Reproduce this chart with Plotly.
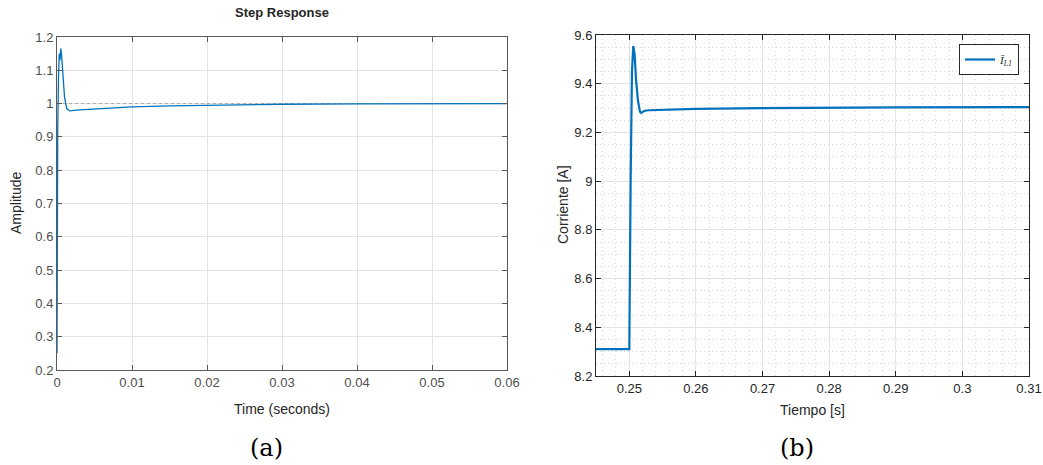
import plotly.graph_objects as go

# ---- Data: (a) step response ----
t_a = [0, 0.00002, 0.0001, 0.0002, 0.0003, 0.0004, 0.0005, 0.0006, 0.0008, 0.001,
       0.0013, 0.0017, 0.003, 0.006, 0.01, 0.015, 0.02, 0.025, 0.03, 0.04, 0.05, 0.06]
y_a = [0.25, 0.67, 0.93, 1.08, 1.15, 1.13, 1.165, 1.15, 1.08, 1.02,
       0.985, 0.978, 0.981, 0.985, 0.99, 0.993, 0.995, 0.997, 0.998, 0.999, 1.0, 1.0]
ref_t = [0, 0.06]
ref_y = [1.0, 1.0]

# ---- Data: (b) inductor current ----
t_b = [0.245, 0.25, 0.2502, 0.2504, 0.2506, 0.2508, 0.251, 0.2513, 0.2516, 0.2518,
       0.252, 0.2525, 0.253, 0.255, 0.26, 0.27, 0.28, 0.29, 0.31]
i_b = [8.31, 8.31, 9.0, 9.45, 9.555, 9.52, 9.42, 9.33, 9.285, 9.28,
       9.285, 9.29, 9.291, 9.293, 9.297, 9.300, 9.302, 9.303, 9.304]

BLUE = "#0072BD"
W, H = 1043, 465

fig = go.Figure()
fig.add_trace(go.Scatter(x=ref_t, y=ref_y, mode="lines", xaxis="x", yaxis="y",
                         line=dict(color="#a8a8a8", width=1, dash="dot"),
                         showlegend=False, hoverinfo="skip"))
fig.add_trace(go.Scatter(x=t_a, y=y_a, mode="lines", xaxis="x", yaxis="y",
                         line=dict(color=BLUE, width=1.3), showlegend=False))
fig.add_trace(go.Scatter(x=t_b, y=i_b, mode="lines", xaxis="x2", yaxis="y2",
                         line=dict(color=BLUE, width=2.2),
                         name="<i>Ī</i><sub><i>L1</i></sub>", showlegend=True))

tickfont_a = dict(family="Liberation Sans, Arial", size=13, color="#4d4d4d")
tickfont_b = dict(family="Liberation Sans, Arial", size=13, color="#262626")

def ax(domain, rng, tick0, dtick, linecolor, tickfont, anchor, minor=None):
    d = dict(domain=domain, range=rng, tick0=tick0, dtick=dtick, tickmode="linear",
             showline=True, linecolor=linecolor, linewidth=1, mirror="ticks",
             ticks="inside", ticklen=5, tickcolor=linecolor, automargin=False,
             showgrid=True, gridcolor="#e3e3e3", gridwidth=1,
             zeroline=False, tickfont=tickfont, anchor=anchor)
    if minor:
        d["minor"] = minor
    return d

fig.update_layout(
    width=W, height=H,
    margin=dict(l=0, r=0, t=0, b=0),
    paper_bgcolor="white", plot_bgcolor="white",
    xaxis=ax([57 / W, 507 / W], [0, 0.06], 0, 0.01, "#5a5a5a", tickfont_a, "y"),
    yaxis=ax([1 - 370 / H, 1 - 37 / H], [0.2, 1.2], 0.2, 0.1, "#5a5a5a", tickfont_a, "x"),
    xaxis2=ax([596 / W, 1029 / W], [0.245, 0.31], 0.25, 0.01, "#262626", tickfont_b, "y2",
              minor=dict(dtick=0.002, tick0=0.25, showgrid=True, griddash="1px,3px",
                         gridcolor="#d6d6d6", gridwidth=1, ticks="")),
    yaxis2=ax([1 - 376 / H, 1 - 35 / H], [8.2, 9.6], 8.2, 0.2, "#262626", tickfont_b, "x2",
              minor=dict(dtick=0.05, tick0=8.2, showgrid=True, griddash="1px,3px",
                         gridcolor="#d6d6d6", gridwidth=1, ticks="")),
    legend=dict(x=1019 / W, y=1 - 44 / H, xanchor="right", yanchor="top",
                bgcolor="white", bordercolor="#262626", borderwidth=1,
                font=dict(family="Liberation Serif, serif", size=11, color="#262626"),
                itemwidth=30, tracegroupgap=0),
)

ann = []
def text(x, y, s, size, family="Liberation Sans, Arial", color="#262626", angle=0, bold=False):
    ann.append(dict(x=x / W, y=1 - y / H, xref="paper", yref="paper", text=("<b>%s</b>" % s) if bold else s,
                    showarrow=False, textangle=angle, xanchor="center", yanchor="middle",
                    font=dict(family=family, size=size, color=color)))

text(282, 13, "Step Response", 13, color="#262626", bold=True)
text(282, 409, "Time (seconds)", 14)
text(16, 203, "Amplitude", 14, angle=-90)
text(812, 410, "Tiempo [s]", 14)
text(563, 205, "Corriente [A]", 14, angle=-90)
text(266, 448, "(a)", 24, family="DejaVu Serif, serif", color="#000000")
text(797, 448, "(b)", 24, family="DejaVu Serif, serif", color="#000000")
fig.update_layout(annotations=ann)

fig.write_html("out.html", config={"displayModeBar": False},
               post_script="document.body.style.margin='0';document.body.style.overflow='hidden';")
